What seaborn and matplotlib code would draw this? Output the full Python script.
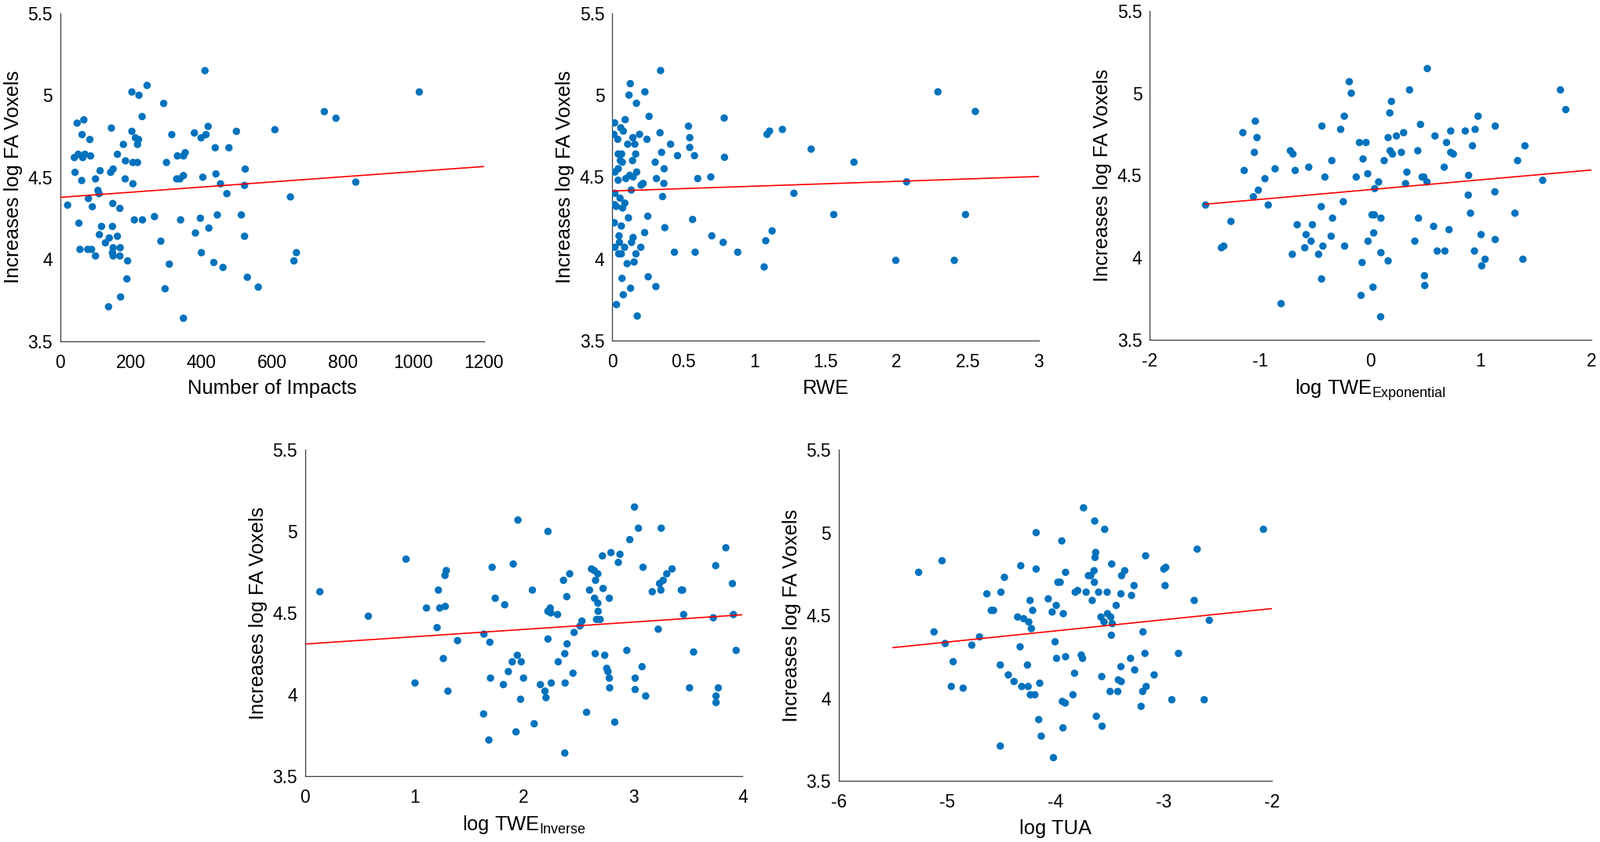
import matplotlib
matplotlib.use("Agg")
import matplotlib.pyplot as plt
import seaborn as sns
import pandas as pd

# ---------------- data ----------------
impacts_x = [21, 40, 42, 48, 53, 51, 56, 62, 61, 64,
             67, 70, 80, 78, 84, 86, 89, 91, 100, 100,
             107, 110, 113, 111, 117, 128, 137, 139, 145, 143,
             150, 149, 148, 150, 148, 150, 162, 162, 169, 170,
             169, 171, 179, 185, 184, 189, 191, 203, 203, 206,
             206, 210, 213, 219, 219, 222, 223, 232, 233, 246,
             267, 285, 293, 297, 301, 309, 316, 330, 332, 339,
             341, 349, 349, 354, 349, 380, 383, 397, 399, 400,
             404, 410, 413, 419, 421, 435, 439, 441, 445, 454,
             461, 472, 478, 499, 513, 522, 522, 524, 530, 561,
             608, 652, 662, 669, 748, 781, 837, 1017]
impacts_y = [4.33, 4.62, 4.53, 4.83, 4.22, 4.64, 4.06, 4.76, 4.48, 4.62,
             4.85, 4.64, 4.37, 4.06, 4.73, 4.63, 4.06, 4.32, 4.49, 4.02,
             4.42, 4.40, 4.54, 4.15, 4.20, 4.10, 3.71, 4.13, 4.80, 4.53,
             4.55, 4.34, 4.20, 4.07, 4.04, 4.02, 4.64, 4.14, 4.31, 4.07,
             4.02, 3.77, 4.70, 4.60, 4.49, 3.88, 3.99, 5.02, 4.78, 4.59,
             4.46, 4.24, 4.74, 4.59, 4.70, 4.73, 5.00, 4.87, 4.24, 5.06,
             4.26, 4.11, 4.95, 3.82, 4.59, 3.97, 4.76, 4.49, 4.63, 4.49,
             4.24, 4.51, 4.63, 4.65, 3.64, 4.77, 4.16, 4.25, 4.74, 4.04,
             4.50, 5.15, 4.76, 4.81, 4.19, 3.98, 4.68, 4.52, 4.27, 4.46,
             3.95, 4.40, 4.68, 4.78, 4.27, 4.45, 4.14, 4.55, 3.89, 3.83,
             4.79, 4.38, 3.99, 4.04, 4.90, 4.86, 4.47, 5.02]

rwe_x = [0.013, 0.018, 0.020, 0.020, 0.018, 0.016, 0.020, 0.031, 0.029, 0.040,
         0.043, 0.043, 0.043, 0.047, 0.049, 0.052, 0.056, 0.058, 0.061, 0.065,
         0.067, 0.070, 0.065, 0.072, 0.074, 0.079, 0.079, 0.088, 0.090, 0.092,
         0.097, 0.106, 0.110, 0.115, 0.119, 0.124, 0.128, 0.130, 0.135, 0.137,
         0.144, 0.146, 0.148, 0.148, 0.155, 0.160, 0.166, 0.168, 0.171, 0.173,
         0.177, 0.193, 0.202, 0.204, 0.218, 0.229, 0.231, 0.245, 0.251, 0.254,
         0.260, 0.303, 0.308, 0.312, 0.337, 0.341, 0.348, 0.355, 0.364, 0.366,
         0.371, 0.411, 0.438, 0.460, 0.537, 0.546, 0.546, 0.566, 0.579, 0.584,
         0.602, 0.694, 0.701, 0.781, 0.788, 0.790, 0.883, 1.069, 1.080, 1.089,
         1.107, 1.125, 1.197, 1.278, 1.399, 1.558, 1.700, 1.994, 2.070, 2.290,
         2.405, 2.484, 2.553]
rwe_y = [4.76, 4.83, 4.53, 4.40, 4.33, 4.22, 4.07, 3.72, 4.32, 4.73,
         4.64, 4.55, 4.48, 4.03, 4.14, 4.10, 4.37, 4.60, 4.80, 4.20,
         4.64, 3.88, 4.03, 4.59, 4.31, 4.78, 3.78, 4.07, 4.34, 4.85,
         4.49, 3.97, 4.70, 4.25, 5.00, 4.51, 5.07, 3.82, 4.42, 4.10,
         4.60, 4.74, 4.50, 4.13, 3.98, 4.70, 4.64, 4.03, 4.95, 4.53,
         3.65, 4.76, 4.07, 4.45, 4.46, 4.16, 5.02, 4.73, 4.26, 3.89,
         4.87, 4.59, 3.83, 4.49, 4.77, 5.15, 4.65, 4.38, 4.46, 4.55,
         4.19, 4.70, 4.04, 4.63, 4.81, 4.74, 4.68, 4.24, 4.63, 4.04,
         4.49, 4.50, 4.14, 4.10, 4.86, 4.62, 4.04, 3.95, 4.11, 4.76,
         4.78, 4.17, 4.79, 4.40, 4.67, 4.27, 4.59, 3.99, 4.47, 5.02,
         3.99, 4.27, 4.90]

twe_exp_x = [-1.493, -1.349, -1.328, -1.263, -1.155, -1.143, -1.060, -1.051, -1.042, -1.027,
             -1.015, -0.955, -0.925, -0.863, -0.809, -0.725, -0.707, -0.701, -0.681, -0.663,
             -0.594, -0.582, -0.558, -0.537, -0.525, -0.469, -0.445, -0.442, -0.439, -0.430,
             -0.412, -0.355, -0.349, -0.343, -0.269, -0.245, -0.236, -0.233, -0.191, -0.173,
             -0.128, -0.099, -0.084, -0.075, -0.066, -0.039, -0.024, -0.021, 0.015, 0.024,
             0.030, 0.039, 0.036, 0.075, 0.096, 0.096, 0.093, 0.125, 0.161, 0.161,
             0.176, 0.179, 0.191, 0.200, 0.236, 0.281, 0.301, 0.319, 0.331, 0.355,
             0.403, 0.430, 0.436, 0.454, 0.469, 0.484, 0.490, 0.493, 0.513, 0.516,
             0.573, 0.585, 0.606, 0.669, 0.675, 0.690, 0.713, 0.728, 0.728, 0.752,
             0.860, 0.887, 0.890, 0.907, 0.925, 0.943, 0.949, 0.976, 1.003, 1.009,
             1.039, 1.128, 1.131, 1.131, 1.310, 1.334, 1.400, 1.382, 1.561, 1.722,
             1.770]
twe_exp_y = [4.32, 4.06, 4.07, 4.22, 4.76, 4.53, 4.37, 4.64, 4.83, 4.73,
             4.41, 4.48, 4.32, 4.54, 3.72, 4.65, 4.02, 4.63, 4.53, 4.20,
             4.06, 4.14, 4.55, 4.10, 4.20, 4.02, 4.31, 3.87, 4.80, 4.07,
             4.49, 4.13, 4.59, 4.24, 4.78, 4.34, 4.86, 4.07, 5.07, 5.00,
             4.49, 4.70, 3.77, 3.97, 4.60, 4.70, 4.51, 4.10, 4.26, 3.82,
             4.15, 4.42, 4.26, 4.46, 4.24, 4.03, 3.64, 4.59, 3.98, 4.73,
             4.88, 4.65, 4.95, 4.63, 4.74, 4.64, 4.76, 4.45, 4.52, 5.02,
             4.10, 4.65, 4.24, 4.81, 4.49, 4.49, 3.89, 3.83, 4.46, 5.15,
             4.19, 4.74, 4.04, 4.55, 4.04, 4.70, 4.17, 4.77, 4.64, 4.63,
             4.77, 4.38, 4.50, 4.27, 4.68, 4.04, 4.78, 4.86, 4.14, 3.95,
             3.99, 4.40, 4.11, 4.80, 4.27, 4.59, 4.68, 3.99, 4.47, 5.02,
             4.90]

twe_inv_x = [0.136, 0.579, 0.923, 1.005, 1.110, 1.207, 1.219, 1.231, 1.264, 1.279,
             1.282, 1.291, 1.306, 1.394, 1.635, 1.632, 1.680, 1.689, 1.695, 1.710,
             1.738, 1.813, 1.825, 1.858, 1.894, 1.903, 1.928, 1.940, 1.946, 1.970,
             1.976, 1.997, 2.078, 2.094, 2.151, 2.193, 2.202, 2.220, 2.220, 2.220,
             2.241, 2.247, 2.250, 2.308, 2.314, 2.362, 2.374, 2.377, 2.374, 2.392,
             2.395, 2.419, 2.449, 2.459, 2.513, 2.531, 2.573, 2.600, 2.618, 2.643,
             2.646, 2.652, 2.655, 2.664, 2.676, 2.676, 2.679, 2.697, 2.718, 2.724,
             2.739, 2.757, 2.769, 2.781, 2.781, 2.784, 2.796, 2.830, 2.863, 2.878,
             2.941, 2.968, 3.011, 3.017, 3.017, 3.047, 3.080, 3.089, 3.113, 3.173,
             3.228, 3.240, 3.255, 3.252, 3.273, 3.306, 3.354, 3.439, 3.451, 3.460,
             3.514, 3.551, 3.731, 3.753, 3.756, 3.756, 3.777, 3.846, 3.906, 3.915,
             3.940]
twe_inv_y = [4.63, 4.48, 4.83, 4.07, 4.53, 4.41, 4.64, 4.53, 4.22, 4.73,
             4.54, 4.76, 4.02, 4.33, 4.37, 3.88, 3.72, 4.32, 4.10, 4.78,
             4.59, 4.06, 4.55, 4.14, 4.20, 4.80, 3.77, 4.24, 5.07, 3.97,
             4.20, 4.10, 4.64, 3.82, 4.06, 4.02, 3.98, 5.00, 4.34, 4.51,
             4.53, 4.50, 4.07, 4.49, 4.20, 4.70, 4.25, 4.07, 3.64, 4.60,
             4.31, 4.74, 4.13, 4.38, 4.42, 4.45, 3.89, 4.64, 4.77, 4.76,
             4.59, 4.25, 4.70, 4.46, 4.74, 4.56, 4.51, 4.46, 4.85, 4.65,
             4.24, 4.16, 4.14, 4.10, 4.59, 4.04, 4.87, 3.83, 4.81, 4.86,
             4.27, 4.95, 5.15, 4.10, 4.03, 5.02, 4.17, 4.78, 3.99, 4.63,
             4.40, 4.68, 5.02, 4.64, 4.70, 4.74, 4.77, 4.64, 4.64, 4.49,
             4.04, 4.26, 4.47, 4.79, 3.99, 3.95, 4.04, 4.90, 4.68, 4.49,
             4.27]

tua_x = [-5.261, -5.119, -5.045, -5.016, -4.959, -4.942, -4.850, -4.770, -4.699, -4.631,
         -4.590, -4.569, -4.507, -4.507, -4.501, -4.469, -4.433, -4.380, -4.347, -4.318,
         -4.324, -4.309, -4.291, -4.256, -4.250, -4.244, -4.232, -4.229, -4.220, -4.208,
         -4.188, -4.176, -4.176, -4.152, -4.143, -4.129, -4.064, -4.028, -4.016, -4.001,
         -3.990, -3.987, -3.975, -3.954, -3.939, -3.934, -3.928, -3.925, -3.907, -3.904,
         -3.904, -3.836, -3.821, -3.815, -3.792, -3.759, -3.747, -3.738, -3.714, -3.693,
         -3.673, -3.658, -3.641, -3.638, -3.635, -3.632, -3.626, -3.620, -3.599, -3.578,
         -3.570, -3.567, -3.549, -3.543, -3.520, -3.517, -3.493, -3.487, -3.481, -3.478,
         -3.473, -3.437, -3.422, -3.417, -3.393, -3.393, -3.390, -3.387, -3.358, -3.304,
         -3.295, -3.272, -3.266, -3.207, -3.192, -3.189, -3.171, -3.165, -3.160, -3.086,
         -2.997, -2.979, -2.985, -2.923, -2.861, -2.716, -2.689, -2.624, -2.577, -2.077]
tua_y = [4.76, 4.40, 4.83, 4.33, 4.07, 4.22, 4.06, 4.32, 4.37, 4.63,
         4.53, 4.53, 4.20, 3.71, 4.64, 4.73, 4.14, 4.10, 4.49, 4.80,
         4.31, 4.07, 4.48, 4.20, 4.07, 4.46, 4.59, 4.02, 4.42, 4.53,
         4.02, 5.00, 4.78, 3.87, 4.09, 3.77, 4.60, 4.52, 3.64, 4.34,
         4.56, 4.24, 4.70, 4.70, 4.95, 3.98, 3.82, 4.51, 3.97, 4.76,
         4.25, 4.02, 4.15, 4.64, 4.65, 4.26, 4.24, 5.15, 4.64, 4.74,
         4.74, 4.59, 4.77, 4.70, 5.07, 4.85, 4.88, 3.89, 4.64, 4.49,
         4.13, 3.83, 4.46, 5.02, 4.64, 4.51, 4.04, 4.49, 4.38, 4.81,
         4.45, 4.56, 4.04, 4.11, 4.63, 4.19, 4.10, 4.74, 4.77, 4.24,
         4.62, 4.68, 4.17, 3.95, 4.04, 4.40, 4.27, 4.86, 4.07, 4.14,
         4.78, 4.79, 4.68, 3.99, 4.27, 4.59, 4.90, 3.99, 4.47, 5.02]

y_ticks = [3.5, 4.0, 4.5, 5.0, 5.5]
y_tick_labels = ["3.5", "4", "4.5", "5", "5.5"]
y_label = "Increases log FA Voxels"

x_labels = ["Number of Impacts", "RWE",
            r"log TWE$_{\mathregular{Exponential}}$",
            r"log TWE$_{\mathregular{Inverse}}$", "log TUA"]
x_ticks_list = [[0, 200, 400, 600, 800, 1000, 1200],
                [0, 0.5, 1, 1.5, 2, 2.5, 3],
                [-2, -1, 0, 1, 2],
                [0, 1, 2, 3, 4],
                [-6, -5, -4, -3, -2]]
x_tick_labels_list = [["0", "200", "400", "600", "800", "1000", "1200"],
                      ["0", "0.5", "1", "1.5", "2", "2.5", "3"],
                      ["-2", "-1", "0", "1", "2"],
                      ["0", "1", "2", "3", "4"],
                      ["-6", "-5", "-4", "-3", "-2"]]
fit_ranges = [(0, 1200), (0, 3), (-1.5, 2), (0, 4), (-5.5, -2)]

# ---------------- styling ----------------
sns.set_theme(style="white")
plt.rcParams["font.family"] = ["Liberation Sans", "DejaVu Sans"]
plt.rcParams["mathtext.fontset"] = "custom"
plt.rcParams["mathtext.rm"] = "Liberation Sans"
plt.rcParams["mathtext.it"] = "Liberation Sans:italic"
plt.rcParams["mathtext.bf"] = "Liberation Sans:bold"

W, H = 2040, 1073
fig = plt.figure(figsize=(W / 100, H / 100), dpi=100)
fig.patch.set_facecolor("white")

# axes rectangles in pixels: left, right, top, bottom
rects = [(76.7, 616.7, 16.9, 434.8),
         (780.0, 1324.0, 16.9, 434.0),
         (1465.0, 2027.7, 14.0, 433.0),
         (388.7, 946.5, 573.4, 988.7),
         (1068.7, 1620.7, 573.3, 995.0)]

datasets = [(impacts_x, impacts_y), (rwe_x, rwe_y), (twe_exp_x, twe_exp_y),
            (twe_inv_x, twe_inv_y), (tua_x, tua_y)]

SPINE = "#3a3a3a"
DOT = "#0072BD"

for i, ((xs, ys), (l, r, t, b)) in enumerate(zip(datasets, rects)):
    ax = fig.add_axes([l / W, 1 - b / H, (r - l) / W, (b - t) / H])
    df = pd.DataFrame({"x": xs, "y": ys})
    xt = x_ticks_list[i]
    # least-squares line drawn across the fit range
    ax.set_xlim(*fit_ranges[i])
    sns.regplot(data=df, x="x", y="y", ax=ax, scatter=False, ci=None,
                truncate=False, color="red",
                line_kws=dict(linewidth=1.2, zorder=4))
    sns.scatterplot(data=df, x="x", y="y", ax=ax, s=46, color=DOT,
                    edgecolor="none", linewidth=0, zorder=3)
    ax.set_xlim(xt[0], xt[-1])
    ax.set_ylim(3.5, 5.5)
    ax.set_xticks(xt)
    ax.set_xticklabels(x_tick_labels_list[i])
    ax.set_yticks(y_ticks)
    ax.set_yticklabels(y_tick_labels)
    ax.set_xlabel(x_labels[i], fontsize=18.4, color="black", labelpad=7)
    ax.set_ylabel(y_label, fontsize=18.4, color="black", labelpad=5)
    for side in ["top", "right"]:
        ax.spines[side].set_visible(False)
    for side in ["left", "bottom"]:
        ax.spines[side].set_color(SPINE)
        ax.spines[side].set_linewidth(0.9)
    ax.tick_params(axis="both", direction="in", length=5, width=0.9,
                   color=SPINE, labelcolor="black", labelsize=16.4)
    ax.tick_params(axis="y", pad=7)
    ax.tick_params(axis="x", pad=11.5)
    ax.set_facecolor("white")
    if ax.get_legend() is not None:
        ax.get_legend().remove()

fig.savefig("out.png", dpi=100, facecolor="white")
